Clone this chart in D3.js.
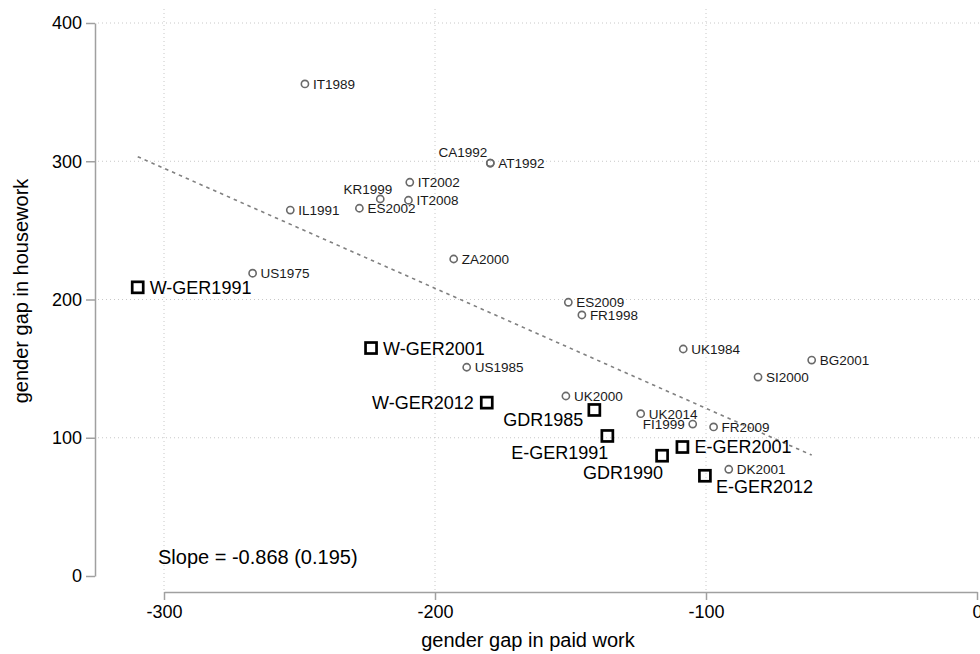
<!DOCTYPE html>
<html>
<head>
<meta charset="utf-8">
<script src="https://cdn.jsdelivr.net/npm/d3@7"></script>
<style>
body { margin: 0; background: #fff; }
svg { font-family: "Liberation Sans", Arial, sans-serif; }
</style>
</head>
<body>
<svg id="chart"></svg>
<script>
var width = 980;
var height = 654;

// countries (hollow circles)
var countryNames = ["IT1989", "CA1992", "AT1992", "IT2002", "KR1999", "IT2008", "ES2002", "IL1991",
	"ZA2000", "US1975", "ES2009", "FR1998", "UK1984", "BG2001", "SI2000", "US1985",
	"UK2000", "UK2014", "FI1999", "FR2009", "DK2001"];
var countryPaid = [-248.0, -179.6, -179.6, -209.3, -220.2, -209.8, -227.9, -253.4,
	-193.1, -267.3, -150.8, -145.8, -108.4, -61.0, -80.8, -188.3,
	-151.7, -124.1, -104.9, -97.2, -91.6];
var countryHouse = [355.9, 298.7, 298.7, 284.8, 272.7, 271.8, 266.0, 264.7,
	229.3, 219.0, 198.0, 188.8, 164.2, 156.2, 143.9, 151.0,
	130.2, 117.4, 109.9, 107.8, 77.2];
// clock position of each label
var countryLabelPos = [3, 11, 3, 3, 12, 3, 3, 3,
	3, 3, 3, 3, 3, 3, 3, 3,
	3, 3, 9, 3, 3];

// german samples (squares)
var gerNames = ["W-GER1991", "W-GER2001", "W-GER2012", "GDR1985", "E-GER1991", "GDR1990", "E-GER2001", "E-GER2012"];
var gerPaid = [-309.7, -223.6, -180.9, -141.2, -136.4, -116.2, -108.7, -100.4];
var gerHouse = [208.8, 164.9, 125.4, 120.1, 101.3, 87.0, 93.3, 72.5];
var gerLabelPos = [3, 3, 9, 8, 7, 7, 3, 4];

// fitted line
var fitIntercept = 34.5;
var fitSlope = -0.868;
var slopeText = "Slope = -0.868 (0.195)";

var xTicks = [-300, -200, -100, 0];
var yTicks = [0, 100, 200, 300, 400];
var xTitle = "gender gap in paid work";
var yTitle = "gender gap in housework";

var xScale = d3.scaleLinear().domain([-300, 0]).range([164, 977]);
var yScale = d3.scaleLinear().domain([0, 400]).range([576, 23]);

var svg = d3.select("#chart")
	.attr("width", width)
	.attr("height", height);

// grid lines
svg.append("g").selectAll("line")
	.data(yTicks.filter(function (d) { return d > 0; }))
	.enter().append("line")
	.attr("x1", 98).attr("x2", width)
	.attr("y1", function (d) { return yScale(d); })
	.attr("y2", function (d) { return yScale(d); })
	.style("stroke", "#c8c8c8")
	.style("stroke-width", 1)
	.style("stroke-dasharray", "1,3");

svg.append("g").selectAll("line")
	.data(xTicks.filter(function (d) { return d < 0; }))
	.enter().append("line")
	.attr("x1", function (d) { return xScale(d); })
	.attr("x2", function (d) { return xScale(d); })
	.attr("y1", 9).attr("y2", 591)
	.style("stroke", "#c8c8c8")
	.style("stroke-width", 1)
	.style("stroke-dasharray", "1,3");

// axes (plain hyphen for negatives, like the original)
var plain = function (d) { return String(d); };
var xAxis = d3.axisBottom(xScale).tickValues(xTicks).tickFormat(plain).tickSize(8).tickSizeOuter(0).tickPadding(5);
var yAxis = d3.axisLeft(yScale).tickValues(yTicks).tickFormat(plain).tickSize(9).tickSizeOuter(0).tickPadding(4);

var gx = svg.append("g").attr("transform", "translate(0,592)").call(xAxis);
var gy = svg.append("g").attr("transform", "translate(95,0)").call(yAxis);

[gx, gy].forEach(function (g) {
	g.select(".domain").style("stroke", "#a0a0a0").style("stroke-width", 1.5);
	g.selectAll(".tick line").style("stroke", "#a0a0a0").style("stroke-width", 1.5);
	g.selectAll(".tick text")
		.style("font-size", "18px")
		.style("fill", "#000")
		.style("font-family", "'Liberation Sans', Arial, sans-serif");
});

// axis titles
svg.append("text")
	.attr("x", 528)
	.attr("y", 647)
	.attr("text-anchor", "middle")
	.style("font-size", "20px")
	.text(xTitle);

svg.append("text")
	.attr("transform", "translate(28,291) rotate(-90)")
	.attr("text-anchor", "middle")
	.style("font-size", "20px")
	.text(yTitle);

// fit line
var fitX = d3.extent(countryPaid.concat(gerPaid));
svg.append("line")
	.attr("x1", xScale(fitX[0]))
	.attr("y1", yScale(fitIntercept + fitSlope * fitX[0]))
	.attr("x2", xScale(fitX[1]))
	.attr("y2", yScale(fitIntercept + fitSlope * fitX[1]))
	.style("stroke", "#808080")
	.style("stroke-width", 1.6)
	.style("stroke-dasharray", "3.5,4");

// label offset for a clock position
function labelOffset(pos, big) {
	if (big) {
		if (pos == 3) return { dx: 12, dy: 0, anchor: "start" };
		if (pos == 9) return { dx: -13, dy: 0, anchor: "end" };
		if (pos == 8) return { dx: -11, dy: 10, anchor: "end" };
		if (pos == 7) return { dx: 1, dy: 17, anchor: "end" };
		if (pos == 4) return { dx: 11, dy: 11, anchor: "start" };
	}
	if (pos == 9) return { dx: -8, dy: 0, anchor: "end" };
	if (pos == 11) return { dx: -3, dy: -11, anchor: "end" };
	if (pos == 12) return { dx: 12, dy: -10, anchor: "end" };
	return { dx: 8, dy: 0, anchor: "start" };
}

// circles
for (var i = 0; i < countryNames.length; i++) {
	var cx = xScale(countryPaid[i]);
	var cy = yScale(countryHouse[i]);
	svg.append("circle")
		.attr("cx", cx)
		.attr("cy", cy)
		.attr("r", 3.6)
		.style("fill", "none")
		.style("stroke", "#6a6a6a")
		.style("stroke-width", 1.6);
	var o = labelOffset(countryLabelPos[i], false);
	svg.append("text")
		.attr("x", cx + o.dx)
		.attr("y", cy + o.dy)
		.attr("dy", "0.36em")
		.attr("text-anchor", o.anchor)
		.style("font-size", "13.5px")
		.style("fill", "#1a1a1a")
		.text(countryNames[i]);
}

// squares
var sq = 11;
for (var j = 0; j < gerNames.length; j++) {
	var sx = xScale(gerPaid[j]);
	var sy = yScale(gerHouse[j]);
	svg.append("rect")
		.attr("x", sx - sq / 2)
		.attr("y", sy - sq / 2)
		.attr("width", sq)
		.attr("height", sq)
		.style("fill", "none")
		.style("stroke", "#000")
		.style("stroke-width", 2.7);
	var g = labelOffset(gerLabelPos[j], true);
	svg.append("text")
		.attr("x", sx + g.dx)
		.attr("y", sy + g.dy)
		.attr("dy", "0.36em")
		.attr("text-anchor", g.anchor)
		.style("font-size", "18px")
		.style("fill", "#000")
		.text(gerNames[j]);
}

// slope annotation
svg.append("text")
	.attr("x", 158)
	.attr("y", 564)
	.style("font-size", "20px")
	.text(slopeText);
</script>
</body>
</html>
